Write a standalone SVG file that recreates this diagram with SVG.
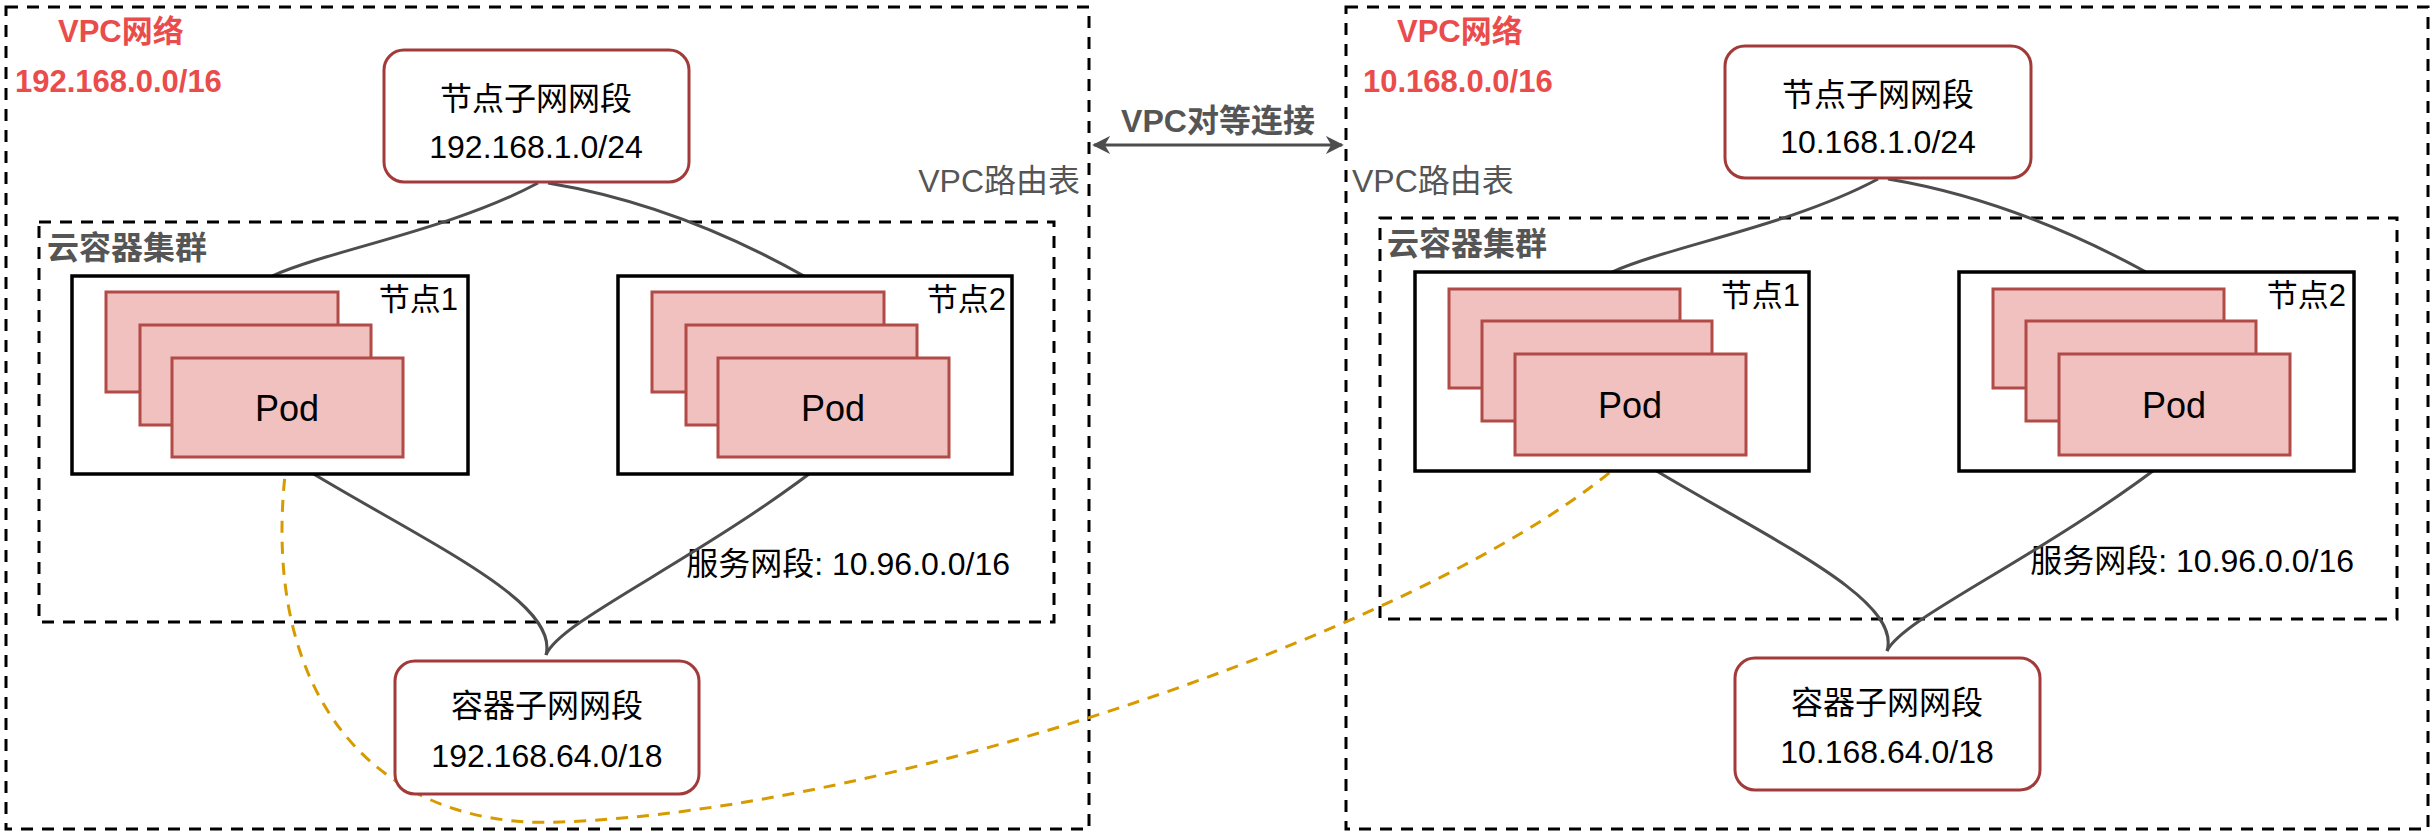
<svg xmlns="http://www.w3.org/2000/svg" width="2436" height="834" viewBox="0 0 2436 834">
<defs>
<style>
text{font-family:"Liberation Sans","Noto Sans CJK SC",sans-serif;font-size:32px;fill:#000}
.red{fill:#ea4c4c;font-weight:bold;font-size:31px}
.gray{fill:#555}
.b{font-weight:bold}
.c{text-anchor:middle}
.e{text-anchor:end}
.outer{fill:none;stroke:#000;stroke-width:3;stroke-dasharray:12 9}
.sub{fill:#fff;stroke:#a33a3a;stroke-width:3}
.node{fill:#fff;stroke:#000;stroke-width:3.5}
.pod{fill:#f0c1bf;stroke:#b24a47;stroke-width:3}
.ln{fill:none;stroke:#4d4d4d;stroke-width:3}
</style>
<marker id="ah" viewBox="0 0 10 10" refX="9" refY="5" markerWidth="6" markerHeight="6" orient="auto-start-reverse"><path d="M0,0L10,5L0,10L3,5z" fill="#4d4d4d"/></marker>
</defs>
<rect width="2436" height="834" fill="#fff"/>
<g id="vpc-left">
<rect class="outer" x="6" y="7" width="1083" height="822"/>
<text class="red" x="58" y="42">VPC网络</text>
<text class="red" x="15" y="92">192.168.0.0/16</text>
<text class="gray e" x="1080" y="192">VPC路由表</text>
</g>
<g id="vpc-right">
<rect class="outer" x="1346" y="7" width="1082" height="822"/>
<text class="red" x="1397" y="42">VPC网络</text>
<text class="red" x="1363" y="92">10.168.0.0/16</text>
<text class="gray" x="1352" y="192">VPC路由表</text>
</g>
<g id="cluster-left">
<rect class="outer" x="39" y="222" width="1015" height="400"/>
<text class="gray b" x="47" y="259">云容器集群</text>
<text x="1010" y="575" class="e">服务网段: 10.96.0.0/16</text>
</g>
<g id="cluster-right">
<rect class="outer" x="1380" y="218" width="1017" height="401"/>
<text class="gray b" x="1387" y="255">云容器集群</text>
<text x="2354" y="572" class="e">服务网段: 10.96.0.0/16</text>
</g>
<g id="connectors">
<path class="ln" d="M538,183 C450,230 330,250 272,276"/>
<path class="ln" d="M548,183 C650,200 740,240 804,276"/>
<path class="ln" d="M287,458 C420,540 560,600 546,655"/>
<path class="ln" d="M830,458 C700,560 560,620 546,655"/>
<path class="ln" d="M1878,179 C1790,226 1670,246 1612,272"/>
<path class="ln" d="M1888,179 C1990,196 2080,236 2146,272"/>
<path class="ln" d="M1630,455 C1763,537 1903,597 1887,651"/>
<path class="ln" d="M2174,455 C2043,557 1903,617 1887,651"/>
<path d="M287,458 C255,700 380,830 560,822 C900,810 1450,620 1630,455" fill="none" stroke="#d79b00" stroke-width="3" stroke-dasharray="12 9"/>
<line x1="1094" y1="145" x2="1342" y2="145" stroke="#4d4d4d" stroke-width="3" marker-start="url(#ah)" marker-end="url(#ah)"/>
<text class="gray b c" x="1218" y="132">VPC对等连接</text>
</g>
<g id="node-subnet-left">
<rect class="sub" x="384" y="50" width="305" height="132" rx="20"/>
<text class="c" x="536" y="110">节点子网网段</text>
<text class="c" x="536" y="158">192.168.1.0/24</text>
</g>
<g id="node-subnet-right">
<rect class="sub" x="1725" y="46" width="306" height="132" rx="20"/>
<text class="c" x="1878" y="106">节点子网网段</text>
<text class="c" x="1878" y="153">10.168.1.0/24</text>
</g>
<g id="pod-subnet-left">
<rect class="sub" x="395" y="661" width="304" height="133" rx="20"/>
<text class="c" x="547" y="717">容器子网网段</text>
<text class="c" x="547" y="767">192.168.64.0/18</text>
</g>
<g id="pod-subnet-right">
<rect class="sub" x="1735" y="658" width="305" height="132" rx="20"/>
<text class="c" x="1887" y="714">容器子网网段</text>
<text class="c" x="1887" y="763">10.168.64.0/18</text>
</g>
<g id="node1-left">
<rect class="node" x="72" y="276" width="396" height="198"/>
<text class="e" x="458" y="310" style="font-size:31px">节点1</text>
<rect class="pod" x="106" y="292" width="232" height="100"/>
<rect class="pod" x="140" y="325" width="231" height="100"/>
<rect class="pod" x="172" y="358" width="231" height="99"/>
<text class="c" x="287" y="421" style="font-size:36px">Pod</text>
</g>
<g id="node2-left">
<rect class="node" x="618" y="276" width="394" height="198"/>
<text class="e" x="1006" y="310" style="font-size:31px">节点2</text>
<rect class="pod" x="652" y="292" width="232" height="100"/>
<rect class="pod" x="686" y="325" width="231" height="100"/>
<rect class="pod" x="718" y="358" width="231" height="99"/>
<text class="c" x="833" y="421" style="font-size:36px">Pod</text>
</g>
<g id="node1-right">
<rect class="node" x="1415" y="272" width="394" height="199"/>
<text class="e" x="1800" y="306" style="font-size:31px">节点1</text>
<rect class="pod" x="1449" y="289" width="231" height="99"/>
<rect class="pod" x="1482" y="321" width="230" height="100"/>
<rect class="pod" x="1515" y="354" width="231" height="101"/>
<text class="c" x="1630" y="418" style="font-size:36px">Pod</text>
</g>
<g id="node2-right">
<rect class="node" x="1959" y="272" width="395" height="199"/>
<text class="e" x="2346" y="306" style="font-size:31px">节点2</text>
<rect class="pod" x="1993" y="289" width="231" height="99"/>
<rect class="pod" x="2026" y="321" width="230" height="100"/>
<rect class="pod" x="2059" y="354" width="231" height="101"/>
<text class="c" x="2174" y="418" style="font-size:36px">Pod</text>
</g>
</svg>
